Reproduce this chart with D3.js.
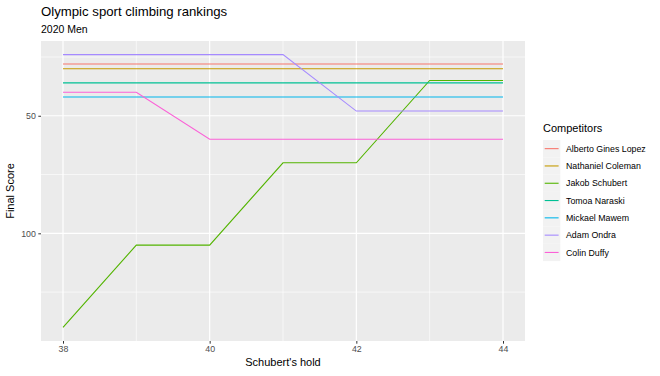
<!DOCTYPE html>
<html>
<head>
<meta charset="utf-8">
<script src="https://cdn.jsdelivr.net/npm/d3@7"></script>
<style>
body { margin: 0; background: #fff; }
text { font-family: "Liberation Sans", Arial, sans-serif; }
</style>
</head>
<body>
<svg id="chart" width="660" height="376"></svg>
<script>
const holds = [38, 39, 40, 41, 42, 43, 44];
const competitors = ["Alberto Gines Lopez", "Nathaniel Coleman", "Jakob Schubert", "Tomoa Naraski", "Mickael Mawem", "Adam Ondra", "Colin Duffy"];
const colors = ["#F8766D", "#C49A00", "#53B400", "#00C094", "#00B6EB", "#A58AFF", "#FB61D7"];
const albertoScores = [28, 28, 28, 28, 28, 28, 28];
const nathanielScores = [30, 30, 30, 30, 30, 30, 30];
const jakobScores = [140, 105, 105, 70, 70, 35, 35];
const tomoaScores = [36, 36, 36, 36, 36, 36, 36];
const mickaelScores = [42, 42, 42, 42, 42, 42, 42];
const adamScores = [24, 24, 24, 24, 48, 48, 48];
const colinScores = [40, 40, 60, 60, 60, 60, 60];
const xTicks = [38, 40, 42, 44];
const xMinor = [39, 41, 43];
const yTicks = [50, 100];
const yMinor = [25, 75, 125];

const seriesValues = [albertoScores, nathanielScores, jakobScores, tomoaScores, mickaelScores, adamScores, colinScores];
const series = competitors.map((name, i) => ({
  name, color: colors[i],
  values: holds.map((h, j) => ({ x: h, y: seriesValues[i][j] }))
}));

const svg = d3.select("#chart");
const panel = { left: 41, right: 525, top: 41, bottom: 341 };

const xMin = 38, xMax = 44, xPad = (xMax - xMin) * 0.05;
const x = d3.scaleLinear().domain([xMin - xPad, xMax + xPad]).range([panel.left, panel.right]);
const allY = seriesValues.flat();
const yLo = d3.min(allY), yHi = d3.max(allY), yPad = (yHi - yLo) * 0.05;
const y = d3.scaleLinear().domain([yLo - yPad, yHi + yPad]).range([panel.top, panel.bottom]);

// panel background
svg.append("rect").attr("x", panel.left).attr("y", panel.top)
  .attr("width", panel.right - panel.left).attr("height", panel.bottom - panel.top)
  .attr("fill", "#EBEBEB");

const g = svg.append("g");
// minor grid
g.selectAll(".ymin").data(yMinor).join("line")
  .attr("x1", panel.left).attr("x2", panel.right)
  .attr("y1", d => y(d)).attr("y2", d => y(d))
  .attr("stroke", "#fff").attr("stroke-width", 0.6);
g.selectAll(".xmin").data(xMinor).join("line")
  .attr("y1", panel.top).attr("y2", panel.bottom)
  .attr("x1", d => x(d)).attr("x2", d => x(d))
  .attr("stroke", "#fff").attr("stroke-width", 0.6);
// major grid
g.selectAll(".ymaj").data(yTicks).join("line")
  .attr("x1", panel.left).attr("x2", panel.right)
  .attr("y1", d => y(d)).attr("y2", d => y(d))
  .attr("stroke", "#fff").attr("stroke-width", 1.2);
g.selectAll(".xmaj").data(xTicks).join("line")
  .attr("y1", panel.top).attr("y2", panel.bottom)
  .attr("x1", d => x(d)).attr("x2", d => x(d))
  .attr("stroke", "#fff").attr("stroke-width", 1.2);

// lines
const line = d3.line().x(d => x(d.x)).y(d => y(d.y));
svg.append("g").selectAll("path").data(series).join("path")
  .attr("d", d => line(d.values))
  .attr("fill", "none").attr("stroke", d => d.color).attr("stroke-width", 1.1);

// axes
const xAxis = d3.axisBottom(x).tickValues(xTicks).tickFormat(d3.format("d")).tickSize(2.7).tickPadding(2.5);
const xa = svg.append("g").attr("transform", `translate(0,${panel.bottom})`).call(xAxis);
const yAxis = d3.axisLeft(y).tickValues(yTicks).tickFormat(d3.format("d")).tickSize(2.7).tickPadding(2.5);
const ya = svg.append("g").attr("transform", `translate(${panel.left},0)`).call(yAxis);
[xa, ya].forEach(a => {
  a.select(".domain").remove();
  a.selectAll(".tick line").attr("stroke", "#333333").attr("stroke-width", 1);
  a.selectAll(".tick text").attr("fill", "#4D4D4D").style("font-size", "8.8px")
    .style("font-family", "'Liberation Sans', Arial, sans-serif");
});

// titles
svg.append("text").attr("x", 41).attr("y", 16).text("Olympic sport climbing rankings")
  .attr("fill", "#000").style("font-size", "13.2px");
svg.append("text").attr("x", 41).attr("y", 33).text("2020 Men")
  .attr("fill", "#000").style("font-size", "10.5px");
svg.append("text").attr("x", (panel.left + panel.right) / 2).attr("y", 366)
  .attr("text-anchor", "middle").text("Schubert's hold").style("font-size", "11px");
svg.append("text").attr("transform", `translate(14,${(panel.top + panel.bottom) / 2}) rotate(-90)`)
  .attr("text-anchor", "middle").text("Final Score").style("font-size", "11px");

// legend
const lg = svg.append("g").attr("transform", "translate(543,0)");
lg.append("text").attr("x", 0).attr("y", 132).text("Competitors").style("font-size", "11px");
const rowH = 17.3, row0 = 140;
const items = lg.selectAll(".item").data(series).join("g")
  .attr("transform", (d, i) => `translate(0,${row0 + i * rowH})`);
items.append("rect").attr("width", 17.3).attr("height", 17.3).attr("fill", "#F2F2F2");
items.append("line").attr("x1", 1.7).attr("x2", 15.6).attr("y1", 8.65).attr("y2", 8.65)
  .attr("stroke", d => d.color).attr("stroke-width", 1.1);
items.append("text").attr("x", 23).attr("y", 8.65).attr("dy", "0.35em")
  .text(d => d.name).style("font-size", "8.8px").attr("fill", "#000");
</script>
</body>
</html>
